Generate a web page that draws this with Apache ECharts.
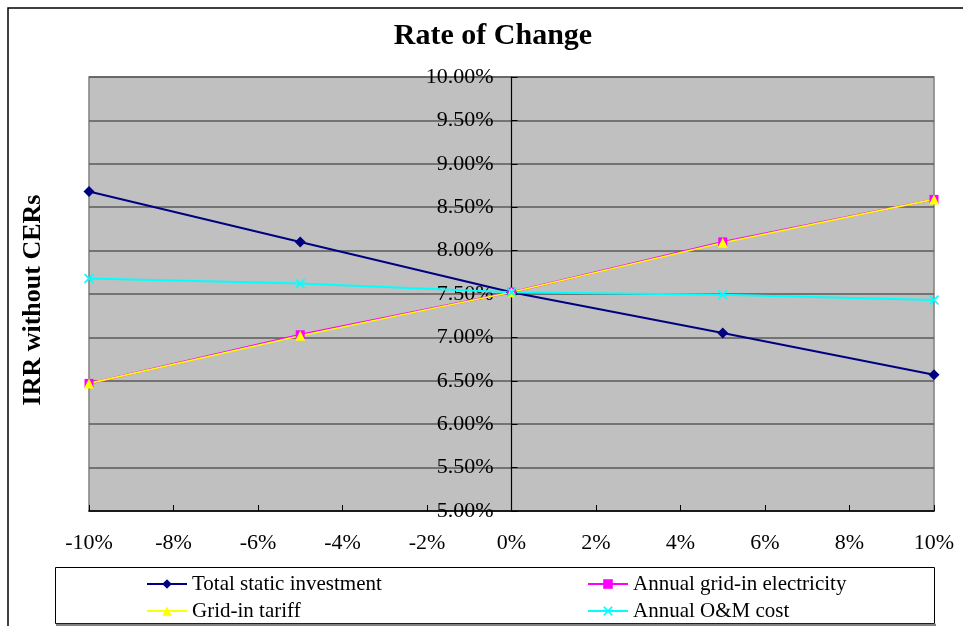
<!DOCTYPE html>
<html>
<head>
<meta charset="utf-8">
<script src="https://cdn.jsdelivr.net/npm/echarts@6/dist/echarts.min.js"></script>
<style>
  html, body { margin: 0; padding: 0; background: #fff; }
  #chart { width: 963px; height: 626px; }
</style>
</head>
<body>
<div id="chart"></div>
<script>
// Sensitivity of IRR (without CERs) to changes in each input
const changeRates = [-10, -5, 0, 5, 10];           // % change of the input
const totalStaticInvestment = [8.68, 8.10, 7.52, 7.05, 6.57];
const annualGridInElectricity = [6.47, 7.03, 7.52, 8.10, 8.59];
const gridInTariff = [6.47, 7.02, 7.52, 8.09, 8.59];
const annualOMCost = [7.68, 7.62, 7.52, 7.49, 7.43];

const seriesNames = [
  'Total static investment',
  'Annual grid-in electricity',
  'Grid-in tariff',
  'Annual O&M cost'
];

const FONT = '"Liberation Serif", "Times New Roman", serif';
const CROSS = 'path://M0,1.2 L1.2,0 L5,3.8 L8.8,0 L10,1.2 L6.2,5 L10,8.8 L8.8,10 L5,6.2 L1.2,10 L0,8.8 L3.8,5 Z';

const pairs = vals => changeRates.map((x, i) => [x, vals[i]]);

// plot rectangle
const GRID = { left: 89, right: 29, top: 77, bottom: 115 };
const PLOT_W = 963 - GRID.left - GRID.right;
// the value axis sits where the change rate is 0%
const Y_AXIS_SHIFT = PLOT_W * (0 - changeRates[0]) / (changeRates[changeRates.length - 1] - changeRates[0]);

const chart = echarts.init(document.getElementById('chart'), null, { renderer: 'canvas' });

const legendText = { fontFamily: FONT, fontSize: 21, color: '#000', lineHeight: 22 };

chart.setOption({
  animation: false,
  backgroundColor: '#fff',
  grid: Object.assign({
    show: true,
    backgroundColor: '#c0c0c0',
    borderColor: '#808080',
    borderWidth: 1.5
  }, GRID),
  legend: [
    {
      data: [seriesNames[0], seriesNames[2]],
      orient: 'vertical',
      left: 146, top: 573,
      itemWidth: 40, itemHeight: 12, itemGap: 5,
      padding: 0,
      textStyle: legendText
    },
    {
      data: [seriesNames[1], seriesNames[3]],
      orient: 'vertical',
      left: 587, top: 573,
      itemWidth: 40, itemHeight: 12, itemGap: 5,
      padding: 0,
      textStyle: legendText
    }
  ],
  xAxis: {
    type: 'value',
    min: -10, max: 10, interval: 2,
    axisLine: { onZero: false, lineStyle: { color: '#000', width: 1.5 } },
    axisTick: { inside: true, length: 6, lineStyle: { color: '#000' } },
    splitLine: { show: false },
    axisLabel: {
      formatter: v => v + '%',
      fontFamily: FONT, fontSize: 22, color: '#000', margin: 21
    }
  },
  yAxis: {
    type: 'value',
    min: 5, max: 10, interval: 0.5,
    position: 'left',
    offset: -Y_AXIS_SHIFT,
    axisLine: { show: true, onZero: false, lineStyle: { color: '#000', width: 1.2 } },
    axisTick: { show: true, inside: true, length: 6, lineStyle: { color: '#000' } },
    splitLine: { lineStyle: { color: '#5a5a5a', width: 1.6 } },
    axisLabel: {
      formatter: v => v.toFixed(2) + '%',
      fontFamily: FONT, fontSize: 22, color: '#000', margin: 18
    }
  },
  graphic: [
    {
      type: 'rect',
      silent: true,
      shape: { x: 8, y: 8, width: 1100, height: 900 },
      style: { fill: 'none', stroke: '#000', lineWidth: 1.5 },
      z: 100
    },
    {
      type: 'rect',
      silent: true,
      shape: { x: 55.5, y: 567.5, width: 879, height: 56 },
      style: { fill: 'none', stroke: '#000', lineWidth: 1 },
      z: 100
    },
    {
      type: 'line',
      silent: true,
      shape: { x1: 56, y1: 625, x2: 936, y2: 625 },
      style: { stroke: '#808080', lineWidth: 2.5 },
      z: 100
    },
    {
      type: 'text',
      silent: true,
      x: 493, y: 36,
      style: {
        text: 'Rate of Change',
        fontFamily: FONT, fontSize: 30, fontWeight: 'bold', fill: '#000',
        align: 'center', verticalAlign: 'middle'
      }
    },
    {
      type: 'text',
      silent: true,
      x: 33, y: 300,
      rotation: Math.PI / 2,
      style: {
        text: 'IRR without CERs',
        fontFamily: FONT, fontSize: 26, fontWeight: 'bold', fill: '#000',
        align: 'center', verticalAlign: 'middle'
      }
    }
  ],
  series: [
    {
      name: seriesNames[0], type: 'line', data: pairs(totalStaticInvestment),
      symbol: 'diamond', symbolSize: 11,
      lineStyle: { color: '#000080', width: 2 },
      itemStyle: { color: '#000080' }
    },
    {
      name: seriesNames[1], type: 'line', data: pairs(annualGridInElectricity),
      symbol: 'rect', symbolSize: 9,
      lineStyle: { color: '#ff00ff', width: 2 },
      itemStyle: { color: '#ff00ff' }
    },
    {
      name: seriesNames[2], type: 'line', data: pairs(gridInTariff),
      symbol: 'triangle', symbolSize: 10,
      lineStyle: { color: '#ffff00', width: 1.6 },
      itemStyle: { color: '#ffff00' }
    },
    {
      name: seriesNames[3], type: 'line', data: pairs(annualOMCost),
      symbol: CROSS, symbolSize: 10,
      lineStyle: { color: '#00ffff', width: 2 },
      itemStyle: { color: '#00ffff' }
    }
  ]
});
</script>
</body>
</html>
